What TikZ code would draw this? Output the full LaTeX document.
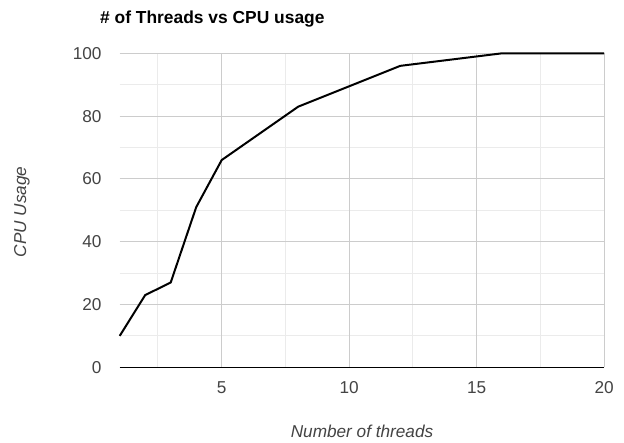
\documentclass[tikz,border=0pt]{standalone}
\usepackage{fontspec}
\setmainfont{Liberation Sans}
\definecolor{txt}{HTML}{444444}
\definecolor{gridmajor}{HTML}{CCCCCC}
\definecolor{gridminor}{HTML}{EBEBEB}
\definecolor{baseline}{HTML}{333333}
\tikzset{
  minorgrid/.style={gridminor, line width=1pt},
  majorgrid/.style={gridmajor, line width=1pt},
  axisline/.style={baseline, line width=1.3pt},
  series/.style={black, line width=2pt, line join=round},
  ticklabel/.style={txt, font=\fontsize{17.2}{19}\selectfont, inner sep=0pt},
  axistitle/.style={txt, font=\fontsize{17.2}{19}\selectfont\itshape, inner sep=0pt},
  charttitle/.style={black, font=\fontsize{17.4}{19}\selectfont\bfseries, inner sep=0pt, anchor=base west}
}
\begin{document}
\begin{tikzpicture}[x=1pt,y=1pt]
\useasboundingbox[fill=white] (0,0) rectangle (624,-443);
\node[charttitle] (title) at (100,-24) {\# of Threads vs CPU usage};
\begin{scope}[shift={(94.2pt,-367.3pt)}, x=25.5pt, y=3.14pt]
  % minor grid
  \foreach \v in {10,30,50,70,90} \draw[minorgrid] (1,\v) -- (20,\v);
  \foreach \t in {2.5,7.5,12.5,17.5} \draw[minorgrid] (\t,0) -- (\t,100);
  % major grid
  \foreach \v in {20,40,60,80,100} \draw[majorgrid] (1,\v) -- (20,\v);
  \foreach \t in {5,10,15,20} \draw[majorgrid] (\t,0) -- (\t,100);
  % baseline
  \draw[axisline] (1,0) -- (20,0);
  % tick labels
  \foreach \v in {0,20,40,60,80,100}
    \node[ticklabel, anchor=east] (y\v) at ([xshift=-18pt]1,\v) {\v};
  \foreach \t in {5,10,15,20}
    \node[ticklabel] (x\t) at ([yshift=-20pt]\t,0) {\t};
  % data
  \coordinate (p1) at (1,10);
  \coordinate (p2) at (2,23);
  \coordinate (p3) at (3,27);
  \coordinate (p4) at (4,51);
  \coordinate (p5) at (5,66);
  \coordinate (p8) at (8,83);
  \coordinate (p12) at (12,96);
  \coordinate (p16) at (16,100);
  \coordinate (p20) at (20,100);
  \draw[series] (p1) -- (p2) -- (p3) -- (p4) -- (p5) -- (p8) -- (p12) -- (p16) -- (p20);
\end{scope}
\node[axistitle] (xlabel) at (362,-431) {Number of threads};
\node[axistitle, rotate=90] (ylabel) at (22,-212) {CPU Usage};
\end{tikzpicture}
\end{document}
